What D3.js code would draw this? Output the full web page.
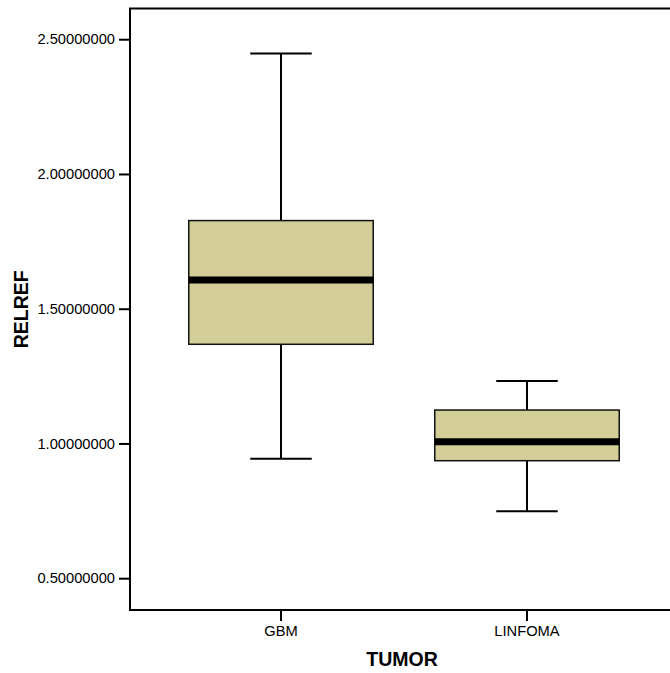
<!DOCTYPE html>
<html>
<head>
<meta charset="utf-8">
<script src="https://cdn.jsdelivr.net/npm/d3@7"></script>
<style>
  html, body { margin: 0; padding: 0; background: #fff; }
  svg { display: block; font-family: Arial, "Liberation Sans", sans-serif; }
</style>
</head>
<body>
<svg id="chart" width="670" height="673"></svg>
<script>
// box statistics
const categories = ["GBM", "LINFOMA"];
const whiskerLow = [0.943, 0.748];
const q1 = [1.368, 0.936];
const median = [1.6065, 1.006];
const q3 = [1.827, 1.124];
const whiskerHigh = [2.447, 1.232];
const yTicks = [0.5, 1.0, 1.5, 2.0, 2.5];

const plotLeft = 130, plotTop = 8.5, plotRight = 670, plotBottom = 610;

const svg = d3.select("#chart");

const y = d3.scaleLinear().domain([0.382, 2.614]).range([plotBottom, plotTop]);
const x = d3.scaleBand().domain(categories).range([158, 650]);

const boxW = x.bandwidth() * 0.75;
const capW = x.bandwidth() * 0.25;

// frame lines (top, left, bottom)
svg.append("path")
  .attr("d", `M${plotRight},${plotTop}H${plotLeft}V${plotBottom}H${plotRight}`)
  .attr("fill", "none").attr("stroke", "#000").attr("stroke-width", 2);

// y axis
const yAxis = svg.append("g")
  .attr("transform", `translate(${plotLeft},0)`)
  .call(d3.axisLeft(y).tickValues(yTicks).tickFormat(d3.format(".8f")).tickSize(11).tickPadding(4));
yAxis.select(".domain").remove();
yAxis.selectAll(".tick line").attr("stroke-width", 2);
yAxis.selectAll(".tick text").attr("font-size", "14.7px").attr("fill", "#000");

// x axis
const xAxis = svg.append("g")
  .attr("transform", `translate(0,${plotBottom})`)
  .call(d3.axisBottom(x).tickSize(11).tickPadding(5));
xAxis.select(".domain").remove();
xAxis.selectAll(".tick line").attr("stroke-width", 2);
xAxis.selectAll(".tick text").attr("font-size", "14.7px").attr("fill", "#000");

// boxes
const data = categories.map((c, i) => ({
  c, lo: whiskerLow[i], q1: q1[i], med: median[i], q3: q3[i], hi: whiskerHigh[i]
}));

const g = svg.append("g").selectAll("g").data(data).join("g")
  .attr("transform", d => `translate(${x(d.c) + x.bandwidth() / 2},0)`);

// whisker stems
g.append("line").attr("x1", 0).attr("x2", 0)
  .attr("y1", d => y(d.hi)).attr("y2", d => y(d.q3))
  .attr("stroke", "#000").attr("stroke-width", 2);
g.append("line").attr("x1", 0).attr("x2", 0)
  .attr("y1", d => y(d.q1)).attr("y2", d => y(d.lo))
  .attr("stroke", "#000").attr("stroke-width", 2);
// caps
g.append("line").attr("x1", -capW / 2).attr("x2", capW / 2)
  .attr("y1", d => y(d.hi)).attr("y2", d => y(d.hi))
  .attr("stroke", "#000").attr("stroke-width", 2);
g.append("line").attr("x1", -capW / 2).attr("x2", capW / 2)
  .attr("y1", d => y(d.lo)).attr("y2", d => y(d.lo))
  .attr("stroke", "#000").attr("stroke-width", 2);
// box
g.append("rect")
  .attr("x", -boxW / 2).attr("width", boxW)
  .attr("y", d => y(d.q3)).attr("height", d => y(d.q1) - y(d.q3))
  .attr("fill", "#d3ce98").attr("stroke", "#111").attr("stroke-width", 1.5);
// median
g.append("line").attr("x1", -boxW / 2).attr("x2", boxW / 2)
  .attr("y1", d => y(d.med)).attr("y2", d => y(d.med))
  .attr("stroke", "#000").attr("stroke-width", 7);

// axis titles
svg.append("text")
  .attr("x", (plotLeft + plotRight) / 2 + 2).attr("y", 666)
  .attr("text-anchor", "middle").attr("font-size", "19.5px").attr("font-weight", "bold")
  .text("TUMOR");
svg.append("text")
  .attr("transform", `translate(28,${(plotTop + plotBottom) / 2}) rotate(-90)`)
  .attr("text-anchor", "middle").attr("font-size", "19.5px").attr("font-weight", "bold")
  .text("RELREF");
</script>
</body>
</html>
